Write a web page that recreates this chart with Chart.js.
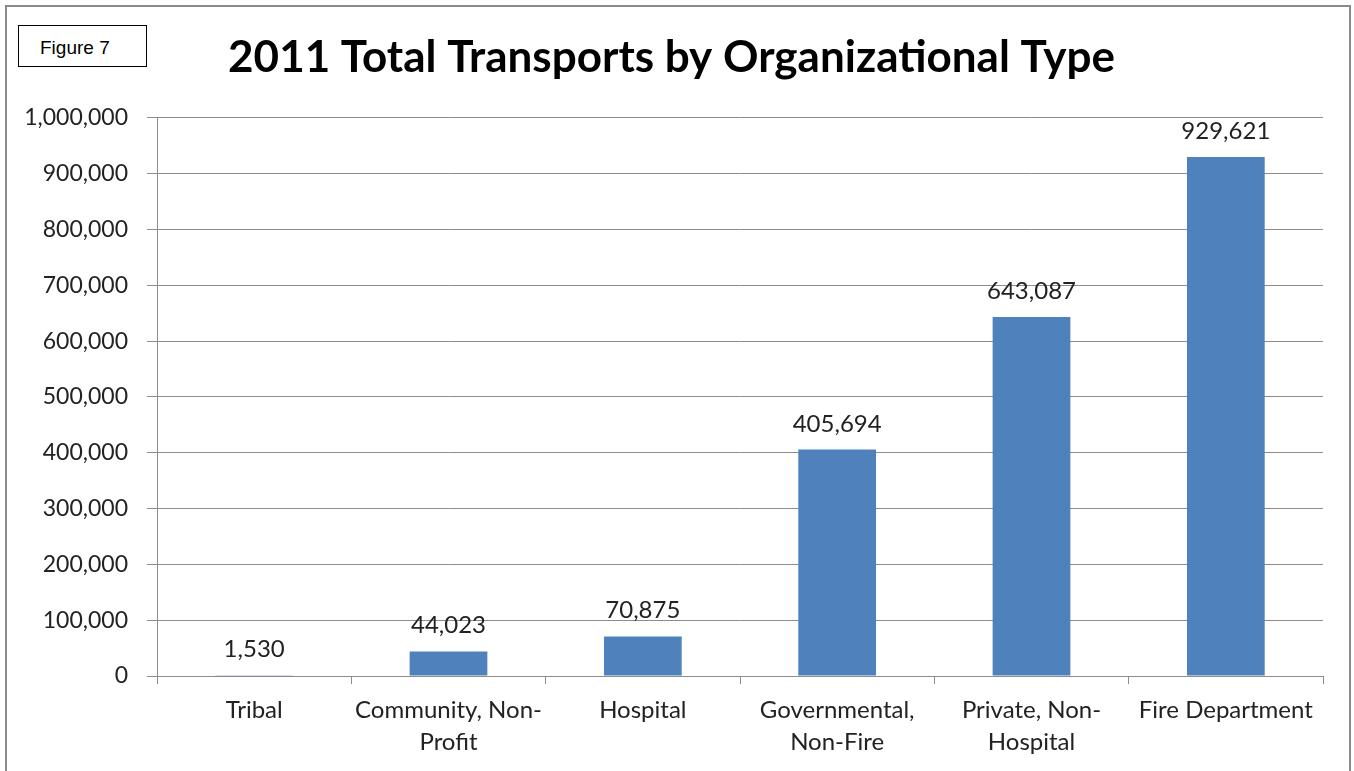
<!DOCTYPE html>
<html>
<head>
<meta charset="utf-8">
<script src="https://cdn.jsdelivr.net/npm/chart.js@4/dist/chart.umd.min.js"></script>
<style>
  html, body { margin: 0; padding: 0; background: #fff; }
  #wrap { position: relative; width: 1354px; height: 771px; overflow: hidden; }
  #frame { position: absolute; left: 5px; top: 5px; width: 1346px; height: 800px; border: 2px solid #8a8a8a; box-sizing: border-box; pointer-events: none; }
  #fig { position: absolute; left: 18px; top: 25px; width: 129px; height: 42px; border: 1px solid #000; box-sizing: border-box;
         font-family: "Liberation Sans", Arial, sans-serif; font-size: 19px; line-height: 19px; padding-top: 12px; padding-left: 21px; color: #000; background: #fff; }
  canvas { position: absolute; left: 0; top: 0; }
</style>
</head>
<body>
<div id="wrap">
  <canvas id="c" width="1354" height="771"></canvas>
  <div id="frame"></div>
  <div id="fig">Figure 7</div>
</div>
<script>
const titleText = "2011 Total Transports by Organizational Type";
const categories = [
  "Tribal",
  ["Community, Non-", "Profit"],
  "Hospital",
  ["Governmental,", "Non-Fire"],
  ["Private, Non-", "Hospital"],
  "Fire Department"
];
const transports = [1530, 44023, 70875, 405694, 643087, 929621];
const yTickMin = 0, yTickMax = 1000000, yTickStep = 100000;

const FONT = "Lato, 'Open Sans', sans-serif";
const GRID = "#8c8c8c";

const valueLabels = {
  id: "valueLabels",
  afterDatasetsDraw(chart) {
    const ctx = chart.ctx;
    const meta = chart.getDatasetMeta(0);
    ctx.save();
    ctx.font = "24px " + FONT;
    ctx.fillStyle = "#222";
    ctx.textAlign = "center";
    ctx.textBaseline = "alphabetic";
    meta.data.forEach((bar, i) => {
      const v = chart.data.datasets[0].data[i];
      ctx.fillText(v.toLocaleString("en-US"), bar.x, bar.y - 18);
    });
    ctx.restore();
  }
};

new Chart(document.getElementById("c"), {
  type: "bar",
  data: {
    labels: categories,
    datasets: [{
      data: transports,
      backgroundColor: "#4F81BD",
      borderWidth: 0,
      barPercentage: 0.8,
      categoryPercentage: 0.5
    }]
  },
  options: {
    responsive: false,
    animation: false,
    devicePixelRatio: 1,
    layout: { padding: { left: 20, right: 31, top: 0, bottom: 0 } },
    plugins: {
      legend: { display: false },
      tooltip: { enabled: false },
      title: {
        display: true,
        text: titleText,
        color: "#000",
        font: { family: FONT, size: 44, weight: "bold", lineHeight: 1.2 },
        padding: { top: 31, bottom: 34 }
      }
    },
    scales: {
      x: {
        grid: { offset: true, drawOnChartArea: false, drawTicks: true, tickLength: 8, color: GRID },
        border: { display: true, color: GRID, width: 1 },
        ticks: { color: "#222", font: { family: FONT, size: 24, lineHeight: 1.3 }, padding: 11, maxRotation: 0, autoSkip: false },
        afterFit(scale) { scale.height = 95; }
      },
      y: {
        min: yTickMin,
        max: yTickMax,
        grid: { color: GRID, tickLength: 10, drawTicks: true },
        border: { display: true, color: GRID, width: 1 },
        ticks: { stepSize: yTickStep, color: "#222", font: { family: FONT, size: 23 }, padding: 19 },
        afterFit(scale) { scale.width = 137; }
      }
    }
  },
  plugins: [valueLabels]
});
</script>
</body>
</html>
